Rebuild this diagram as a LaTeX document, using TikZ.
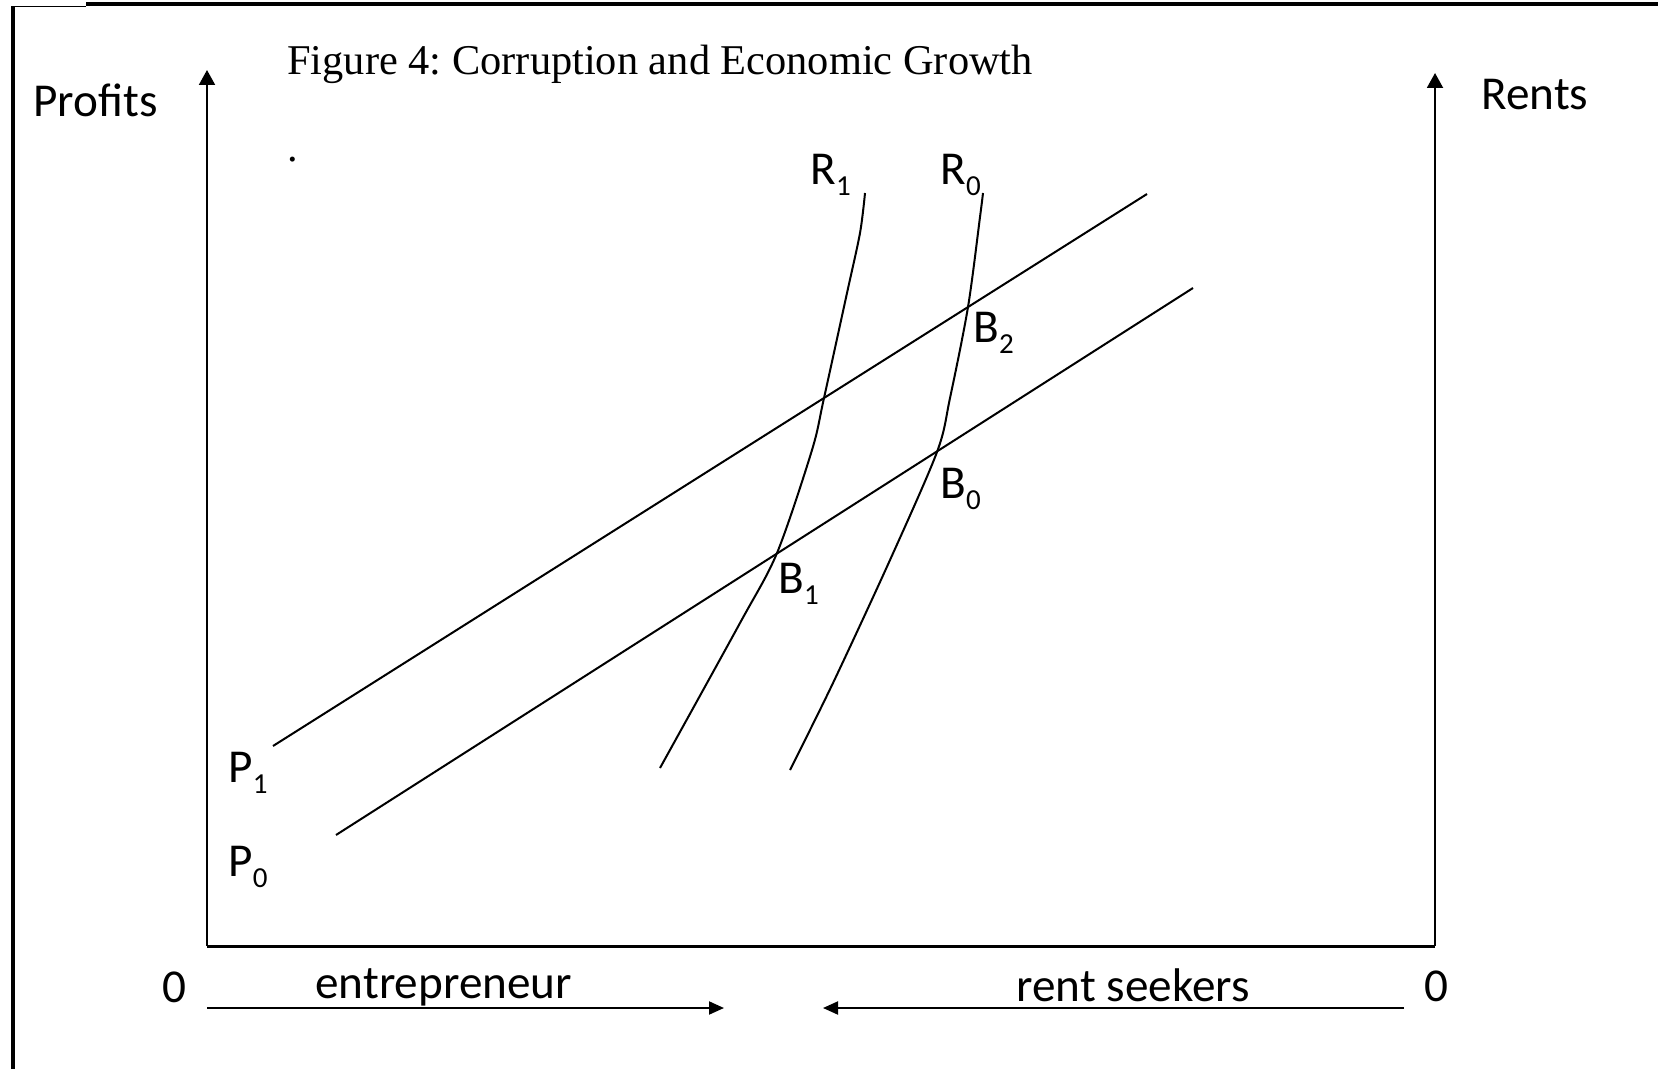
\documentclass[tikz,border=0pt]{standalone}
\usepackage{fontspec}
\setmainfont{Carlito}
\newfontfamily\titlefont{Liberation Serif}
\usetikzlibrary{arrows.meta}
\newcommand{\sub}[1]{\raisebox{-5.5pt}{\fontsize{14.5}{15}\selectfont #1}}

\begin{document}
\begin{tikzpicture}[x=0.5pt,y=-0.5pt,
  lbl/.style={anchor=base west,inner sep=0pt,font=\fontsize{23.6}{26}\selectfont},
  curve/.style={line width=1pt},
  axis/.style={line width=1pt,-{Triangle[length=7.5pt,width=8pt]}},
  flow/.style={line width=1pt,-{Triangle[length=7.5pt,width=6.5pt]}}]
  \useasboundingbox (0,0) rectangle (1658,1069);
  % frame
  \draw[line width=2pt](86,4.5)--(1658,4.5);
  \draw[line width=0.6pt](13,6.5)--(86,6.5);
  \draw[line width=1.8pt](13,6.5)--(13,1069);
  % axes
  \coordinate (O) at (207,946);
  \coordinate (Or) at (1435,946);
  \coordinate (ptop) at (207,70);
  \coordinate (rtop) at (1435,73);
  \draw[axis](O)--(ptop);
  \draw[axis](Or)--(rtop);
  \draw[line width=1.5pt](O)--(Or);
  % title and axis labels
  \node[anchor=base west,inner sep=0pt,font=\titlefont\fontsize{21.2}{24}\selectfont\frenchspacing] (title) at (287,75){Figure 4: Corruption and Economic Growth};
  \node[anchor=base west,inner sep=0pt,font=\titlefont\fontsize{21.2}{24}\selectfont] (dot) at (287,162){.};
  \node[lbl] (profits) at (33,117){Profits};
  \node[lbl] (rents) at (1481,110){Rents};
  % profit lines
  \coordinate (p1a) at (273,746);
  \coordinate (p1b) at (1147,194);
  \coordinate (p0a) at (336,835);
  \coordinate (p0b) at (1193,288);
  \draw[curve](p1a)--(p1b);
  \draw[curve](p0a)--(p0b);
  % rent curves
  \draw[curve] plot[smooth] coordinates {(865,193)(860,233)(847,293)(824,398)(812,450)(777,553)(740,623)(660,768)};
  \draw[curve] plot[smooth] coordinates {(983,193)(980,217)(968,307)(950,398)(937,452)(890,560)(833,683)(790,770)};
  % curve labels
  \node[lbl] (R1) at (810,185){R\sub{1}};
  \node[lbl] (R0) at (940,185){R\sub{0}};
  \node[lbl] (B2) at (973,343){B\sub{2}};
  \node[lbl] (B0) at (940,498){B\sub{0}};
  \node[lbl] (B1) at (778,593){B\sub{1}};
  \node[lbl] (P1) at (228,782){P\sub{1}};
  \node[lbl] (P0) at (228,876){P\sub{0}};
  % bottom labels and arrows
  \node[lbl] (zl) at (162,1002){0};
  \node[lbl] (zr) at (1424,1001){0};
  \node[lbl] (ent) at (315,998){entrepreneur};
  \node[lbl] (rs) at (1016,1001){rent seekers};
  \coordinate (el) at (207,1008);
  \coordinate (er) at (724,1008);
  \coordinate (sr) at (1404,1008);
  \coordinate (sl) at (823,1008);
  \draw[flow](el)--(er);
  \draw[flow](sr)--(sl);
\end{tikzpicture}
\end{document}
